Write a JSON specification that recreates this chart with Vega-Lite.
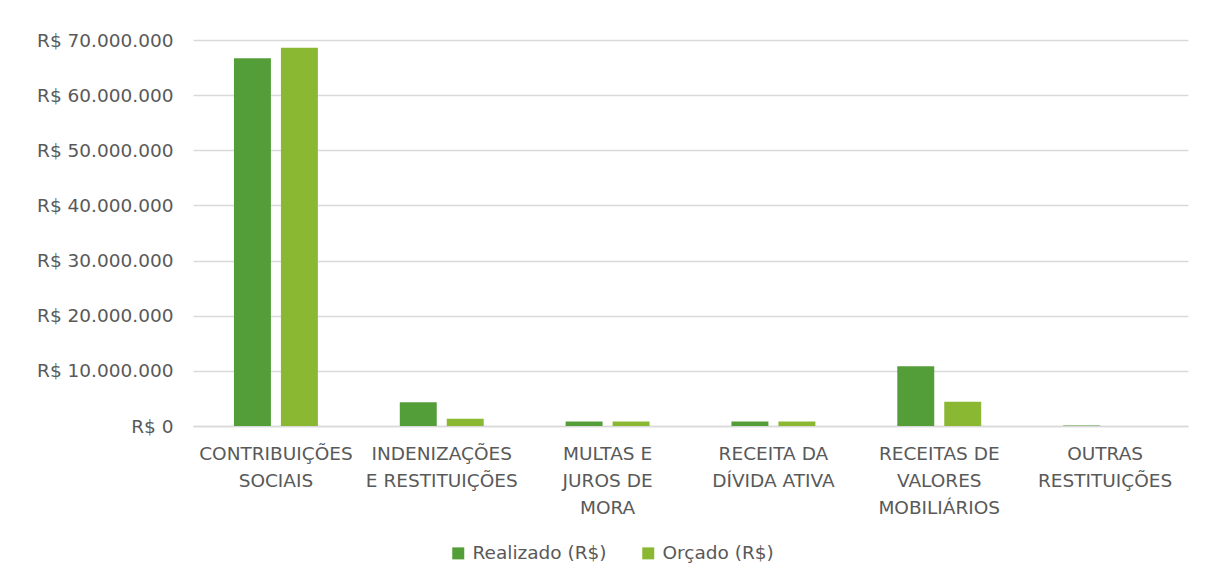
{
  "$schema": "https://vega.github.io/schema/vega-lite/v6.json",
  "width": 995,
  "height": 386,
  "autosize": {"type": "none"},
  "padding": {"left": 193, "top": 40, "right": 20, "bottom": 159},
  "background": "white",
  "data": {
    "values": [
      {"categoria": "CONTRIBUIÇÕES|SOCIAIS", "serie": "Realizado (R$)", "valor": 66700000},
      {"categoria": "CONTRIBUIÇÕES|SOCIAIS", "serie": "Orçado (R$)", "valor": 68600000},
      {"categoria": "INDENIZAÇÕES|E RESTITUIÇÕES", "serie": "Realizado (R$)", "valor": 4300000},
      {"categoria": "INDENIZAÇÕES|E RESTITUIÇÕES", "serie": "Orçado (R$)", "valor": 1300000},
      {"categoria": "MULTAS E|JUROS DE|MORA", "serie": "Realizado (R$)", "valor": 800000},
      {"categoria": "MULTAS E|JUROS DE|MORA", "serie": "Orçado (R$)", "valor": 800000},
      {"categoria": "RECEITA DA|DÍVIDA ATIVA", "serie": "Realizado (R$)", "valor": 800000},
      {"categoria": "RECEITA DA|DÍVIDA ATIVA", "serie": "Orçado (R$)", "valor": 800000},
      {"categoria": "RECEITAS DE|VALORES|MOBILIÁRIOS", "serie": "Realizado (R$)", "valor": 10850000},
      {"categoria": "RECEITAS DE|VALORES|MOBILIÁRIOS", "serie": "Orçado (R$)", "valor": 4400000},
      {"categoria": "OUTRAS|RESTITUIÇÕES", "serie": "Realizado (R$)", "valor": 100000},
      {"categoria": "OUTRAS|RESTITUIÇÕES", "serie": "Orçado (R$)", "valor": 20000}
    ]
  },
  "mark": {"type": "bar"},
  "encoding": {
    "x": {
      "field": "categoria",
      "type": "nominal",
      "sort": null,
      "scale": {"paddingInner": 0, "paddingOuter": 0},
      "axis": {
        "title": null,
        "labelAngle": 0,
        "labelExpr": "split(datum.label, '|')",
        "labelPadding": 18,
        "labelLineHeight": 27,
        "labelBaseline": "top",
        "labelLimit": 300,
        "ticks": false,
        "domainColor": "#d9d9d9",
        "domainWidth": 1.5
      }
    },
    "xOffset": {
      "field": "serie",
      "type": "nominal",
      "sort": ["Realizado (R$)", "Orçado (R$)"],
      "scale": {"paddingInner": 0.213, "paddingOuter": 0.872}
    },
    "y": {
      "field": "valor",
      "type": "quantitative",
      "scale": {"domain": [0, 70000000], "nice": false},
      "axis": {
        "title": null,
        "values": [0, 10000000, 20000000, 30000000, 40000000, 50000000, 60000000, 70000000],
        "labelExpr": "'R$ ' + replace(replace(format(datum.value, ','), ',', '.'), ',', '.')",
        "labelPadding": 20,
        "ticks": false,
        "domain": false,
        "gridColor": "#d9d9d9",
        "gridWidth": 1.5
      }
    },
    "color": {
      "field": "serie",
      "type": "nominal",
      "sort": ["Realizado (R$)", "Orçado (R$)"],
      "scale": {"domain": ["Realizado (R$)", "Orçado (R$)"], "range": ["#549E39", "#8AB833"]},
      "legend": {
        "title": null,
        "orient": "none",
        "legendX": 256,
        "legendY": 504,
        "direction": "horizontal",
        "symbolType": "square",
        "symbolSize": 144,
        "symbolStrokeWidth": 0,
        "labelOffset": 5,
        "columnPadding": 32
      }
    }
  },
  "config": {
    "view": {"stroke": null},
    "font": "DejaVu Sans",
    "axis": {"labelFont": "DejaVu Sans", "labelFontSize": 18.5, "labelColor": "#595959"},
    "legend": {
      "labelFont": "DejaVu Sans",
      "labelFontSize": 18.5,
      "labelColor": "#595959",
      "labelLimit": 300
    }
  }
}
